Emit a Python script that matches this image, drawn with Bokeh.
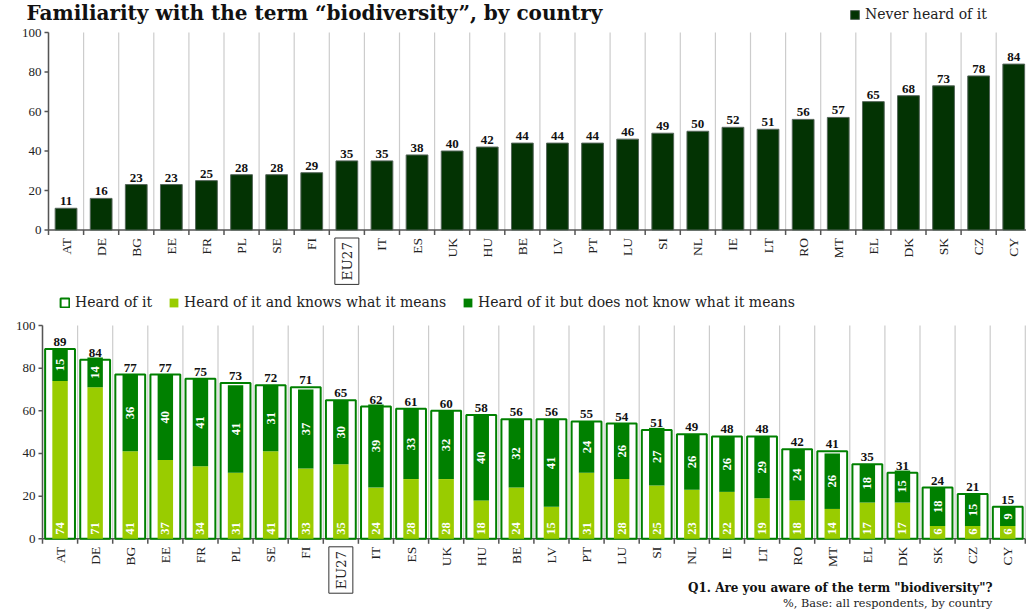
import math
from bokeh.plotting import figure
from bokeh.models import (ColumnDataSource, Legend, LegendItem, Label, LabelSet, Range1d)
from bokeh.embed import file_html
from bokeh.resources import INLINE

countries = ["AT", "DE", "BG", "EE", "FR", "PL", "SE", "FI", "EU27", "IT", "ES", "UK", "HU", "BE",
             "LV", "PT", "LU", "SI", "NL", "IE", "LT", "RO", "MT", "EL", "DK", "SK", "CZ", "CY"]
never_heard = [11, 16, 23, 23, 25, 28, 28, 29, 35, 35, 38, 40, 42, 44,
               44, 44, 46, 49, 50, 52, 51, 56, 57, 65, 68, 73, 78, 84]
heard_total = [89, 84, 77, 77, 75, 73, 72, 71, 65, 62, 61, 60, 58, 56,
               56, 55, 54, 51, 49, 48, 48, 42, 41, 35, 31, 24, 21, 15]
knows = [74, 71, 41, 37, 34, 31, 41, 33, 35, 24, 28, 28, 18, 24,
         15, 31, 28, 25, 23, 22, 19, 18, 14, 17, 17, 6, 6, 6]
not_know = [15, 14, 36, 40, 41, 41, 31, 37, 30, 39, 33, 32, 40, 32,
            41, 24, 26, 27, 26, 26, 29, 24, 26, 18, 15, 18, 15, 9]
y_ticks = [0, 20, 40, 60, 80, 100]

FONT = "DejaVu Serif"
DARK = "#033303"
LIGHT = "#99cc00"
MID = "#008000"
GRID = "#cccccc"
AXIS = "#555555"
TXT = "#222222"

# layout (figure pixels)
W, H = 1026, 610
CAT_W = 35.1
TOP = dict(axis_x=48, y100=32, y0=229.5)
BOT = dict(axis_x=42, y100=325, y0=538.3)

n = len(countries)
xs = list(range(n))
bounds = [i - 0.5 for i in range(n + 1)]
eu_idx = countries.index("EU27")


def ranges(cfg):
    xs0 = -0.5 - cfg["axis_x"] / CAT_W
    s = (cfg["y0"] - cfg["y100"]) / 100.0
    return (Range1d(xs0, xs0 + W / CAT_W),
            Range1d(-(H - cfg["y0"]) / s, 100 + cfg["y100"] / s), s)


xr1, yr1, s1 = ranges(TOP)
xr2, yr2, s2 = ranges(BOT)

p = figure(width=W, height=H, x_range=xr1, y_range=yr1, min_border=0,
           x_axis_location=None, y_axis_location=None,
           output_backend="svg", toolbar_location=None)
p.extra_x_ranges = {"b": xr2}
p.extra_y_ranges = {"b": yr2}
p.outline_line_color = None
p.xgrid.visible = False
p.ygrid.visible = False


def frame_parts(rn, s):
    kw = dict(x_range_name=rn, y_range_name=rn)
    # vertical separators (grid)
    p.segment(x0=bounds, y0=[0] * len(bounds), x1=bounds, y1=[100] * len(bounds),
              line_color=GRID, line_width=1.2, **kw)
    # x axis line and ticks
    p.segment(x0=[-0.5], y0=[0], x1=[n - 0.5], y1=[0], line_color=AXIS, line_width=1.5, **kw)
    p.segment(x0=bounds, y0=[0] * len(bounds), x1=bounds, y1=[-5 / s] * len(bounds),
              line_color=AXIS, line_width=1.5, **kw)
    # y axis line, ticks and labels
    p.segment(x0=[-0.5], y0=[0], x1=[-0.5], y1=[100], line_color=AXIS, line_width=1.5, **kw)
    p.segment(x0=[-0.5] * len(y_ticks), y0=y_ticks, x1=[-0.5 - 4 / CAT_W] * len(y_ticks),
              y1=y_ticks, line_color=AXIS, line_width=1.5, **kw)
    ysrc = ColumnDataSource(dict(x=[-0.5] * len(y_ticks), y=y_ticks,
                                 t=[str(v) for v in y_ticks]))
    p.add_layout(LabelSet(x="x", y="y", text="t", source=ysrc, x_offset=-7,
                          text_align="right", text_baseline="middle", text_font=FONT,
                          text_font_size="13px", text_color=TXT, **kw))
    # category labels
    csrc = ColumnDataSource(dict(x=xs, y=[0] * n,
                                 t=["" if c == "EU27" else c for c in countries]))
    p.add_layout(LabelSet(x="x", y="y", text="t", source=csrc, y_offset=-8,
                          angle=math.pi / 2, text_align="right", text_baseline="middle",
                          text_font=FONT, text_font_size="13.5px", text_color=TXT, **kw))
    p.add_layout(Label(x=eu_idx, y=0, y_offset=-8, text="EU27", angle=math.pi / 2,
                       text_align="right", text_baseline="middle", text_font=FONT,
                       text_font_size="13.5px", text_color=TXT, border_line_color="#333333",
                       border_line_width=1, padding=4, **kw))


# ---------------- top chart ----------------
frame_parts("default", s1)
src1 = ColumnDataSource(dict(x=xs, v=never_heard, t=[str(v) for v in never_heard]))
r_never = p.vbar(x="x", top="v", width=0.62, source=src1, fill_color=DARK,
                 line_color="#55665a", line_width=1)
p.add_layout(LabelSet(x="x", y="v", text="t", source=src1, y_offset=3, text_align="center",
                      text_baseline="bottom", text_font=FONT, text_font_size="13px",
                      text_font_style="bold", text_color="#111111"))
p.add_layout(Label(x=-0.5, y=100, x_offset=-22, y_offset=20,
                   text="Familiarity with the term \u201cbiodiversity\u201d, by country",
                   text_align="left", text_baseline="middle", text_font=FONT,
                   text_font_size="20px", text_font_style="bold", text_color="#111111"))
leg1 = Legend(items=[LegendItem(label="Never heard of it", renderers=[r_never])],
              location=(849, 588), padding=0, margin=0, glyph_width=11, glyph_height=11,
              label_standoff=5, label_text_font=FONT, label_text_font_size="14px",
              label_text_color=TXT, background_fill_alpha=0, border_line_color=None)
p.add_layout(leg1)

# ---------------- bottom chart ----------------
frame_parts("b", s2)
kb = dict(x_range_name="b", y_range_name="b")
stack_top = [a + b for a, b in zip(knows, not_know)]
mid = [a + b / 2 for a, b in zip(knows, not_know)]
src2 = ColumnDataSource(dict(x=xs, tot=heard_total, k=knows, st=stack_top, mid=mid,
                             tt=[str(v) for v in heard_total], kt=[str(v) for v in knows],
                             nt=[str(v) for v in not_know], zero=[0] * n))
r_tot = p.vbar(x="x", top="tot", width=0.85, source=src2, fill_color="white",
               line_color=MID, line_width=2, **kb)
r_k = p.vbar(x="x", top="k", width=0.44, source=src2, fill_color=LIGHT, line_color=None, **kb)
r_n = p.vbar(x="x", bottom="k", top="st", width=0.44, source=src2, fill_color=MID,
             line_color=None, **kb)
p.add_layout(LabelSet(x="x", y="tot", text="tt", source=src2, y_offset=3, text_align="center",
                      text_baseline="bottom", text_font=FONT, text_font_size="13px",
                      text_font_style="bold", text_color="#111111", **kb))
p.add_layout(LabelSet(x="x", y="zero", text="kt", source=src2, y_offset=4, angle=math.pi / 2,
                      text_align="left", text_baseline="middle", text_font=FONT,
                      text_font_size="12.5px", text_font_style="bold", text_color="white", **kb))
p.add_layout(LabelSet(x="x", y="mid", text="nt", source=src2, angle=math.pi / 2,
                      text_align="center", text_baseline="middle", text_font=FONT,
                      text_font_size="12.5px", text_font_style="bold", text_color="white", **kb))
leg2 = Legend(items=[LegendItem(label="Heard of it", renderers=[r_tot]),
                     LegendItem(label="Heard of it and knows what it means", renderers=[r_k]),
                     LegendItem(label="Heard of it but does not know what it means",
                                renderers=[r_n])],
              location=(59, 300), orientation="horizontal", spacing=16, padding=0, margin=0,
              glyph_width=11, glyph_height=11, label_standoff=5, label_text_font=FONT,
              label_text_font_size="14px", label_text_color=TXT, background_fill_alpha=0,
              border_line_color=None)
p.add_layout(leg2)
fx = -0.5 + (992 - BOT["axis_x"]) / CAT_W
p.add_layout(Label(x=fx, y=0, y_offset=-49, text="Q1. Are you aware of the term \"biodiversity\"?",
                   text_align="right", text_baseline="middle", text_font=FONT,
                   text_font_size="12px", text_font_style="bold", text_color="#111111", **kb))
p.add_layout(Label(x=fx, y=0, y_offset=-65, text="%, Base: all respondents, by country",
                   text_align="right", text_baseline="middle", text_font=FONT,
                   text_font_size="11.3px", text_color=TXT, **kb))

open("out.html", "w").write(file_html(p, INLINE))
